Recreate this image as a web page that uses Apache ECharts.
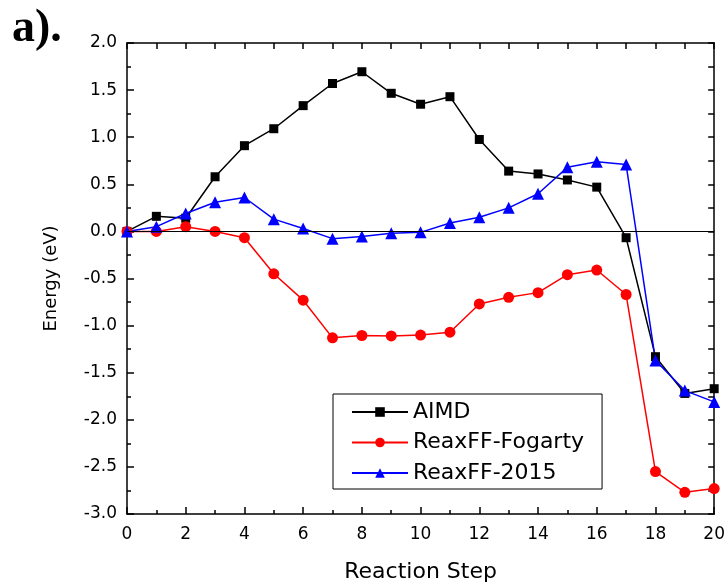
<!DOCTYPE html>
<html>
<head>
<meta charset="utf-8">
<script src="https://cdn.jsdelivr.net/npm/echarts@6/dist/echarts.min.js"></script>
<style>html,body{margin:0;padding:0;background:#fff;}#c{width:728px;height:588px;}</style>
</head>
<body>
<div id="c"></div>
<script>
var steps = [0,1,2,3,4,5,6,7,8,9,10,11,12,13,14,15,16,17,18,19,20];
var aimd = [0,0.16,0.14,0.58,0.91,1.09,1.335,1.57,1.695,1.466,1.35,1.43,0.976,0.64,0.61,0.546,0.47,-0.067,-1.33,-1.72,-1.67];
var fogarty = [0,0.0,0.05,0.0,-0.067,-0.45,-0.73,-1.13,-1.105,-1.11,-1.10,-1.07,-0.77,-0.70,-0.65,-0.46,-0.41,-0.67,-2.55,-2.77,-2.73];
var reax2015 = [0,0.05,0.19,0.31,0.36,0.13,0.03,-0.077,-0.053,-0.02,-0.01,0.09,0.15,0.25,0.40,0.68,0.74,0.71,-1.37,-1.69,-1.81];
var seriesNames = ['AIMD','ReaxFF-Fogarty','ReaxFF-2015'];
var yTickLabels = ['2.0','1.5','1.0','0.5','0.0','-0.5','-1.0','-1.5','-2.0','-2.5','-3.0'];

function pairs(arr){ return steps.map(function(s,i){ return [s, arr[i]]; }); }

var chart = echarts.init(document.getElementById('c'), null, {renderer:'canvas'});
var font = '"DejaVu Sans", sans-serif';
var axisLineStyle = {color:'#000', width:1.5};
chart.setOption({
  backgroundColor:'#fff',
  animation:false,
  graphic:[{type:'text', left:12, top:6, style:{text:'a).', font:'bold 46px "Liberation Serif", "Times New Roman", serif', fill:'#000'}}],
  grid:{left:127, right:11, top:43, bottom:72},
  legend:{
    orient:'vertical', left:333, top:394,
    data:seriesNames,
    itemWidth:56, itemHeight:12, itemGap:6.5,
    padding:[6, 18, 4, 18],
    borderColor:'#000', borderWidth:1, backgroundColor:'#fff',
    textStyle:{fontFamily:font, fontSize:22, lineHeight:24, color:'#000'}
  },
  xAxis:[{
    type:'value', min:0, max:20, interval:2,
    name:'Reaction Step', nameLocation:'middle', nameGap:47,
    nameTextStyle:{fontFamily:font, fontSize:22, color:'#000'},
    axisLine:{show:true, onZero:false, lineStyle:axisLineStyle},
    axisTick:{show:true, inside:true, length:7, lineStyle:{color:'#000', width:1.5}},
    minorTick:{show:true, splitNumber:2, length:4, lineStyle:{color:'#000', width:1.5}},
    axisLabel:{fontFamily:font, fontSize:17, color:'#000', margin:12},
    splitLine:{show:false}
  },{
    type:'value', min:0, max:20, interval:1, position:'top',
    axisLine:{show:true, onZero:false, lineStyle:axisLineStyle},
    axisTick:{show:true, inside:true, length:6, lineStyle:{color:'#000', width:1.5}},
    axisLabel:{show:false}, splitLine:{show:false}
  }],
  yAxis:[{
    type:'value', min:-3, max:2, interval:0.5,
    name:'Energy (eV)', nameLocation:'middle', nameGap:67,
    nameTextStyle:{fontFamily:font, fontSize:18, color:'#000'},
    axisLine:{show:true, onZero:false, lineStyle:axisLineStyle},
    axisTick:{show:true, inside:true, length:7, lineStyle:{color:'#000', width:1.5}},
    minorTick:{show:true, splitNumber:2, length:4, lineStyle:{color:'#000', width:1.5}},
    axisLabel:{fontFamily:font, fontSize:17, color:'#000', margin:10,
      formatter:function(v){ var i = Math.round((2 - v)/0.5); return yTickLabels[i]; }},
    splitLine:{show:false}
  },{
    type:'value', min:-3, max:2, interval:0.25, position:'right',
    axisLine:{show:true, onZero:false, lineStyle:axisLineStyle},
    axisTick:{show:true, inside:true, length:6, lineStyle:{color:'#000', width:1.5}},
    axisLabel:{show:false}, splitLine:{show:false}
  }],
  series:[{
    name:seriesNames[0], type:'line', data:pairs(aimd),
    symbol:'rect', symbolSize:9, color:'#000',
    lineStyle:{color:'#000', width:1.5}, itemStyle:{color:'#000'},
    markLine:{silent:true, symbol:'none', label:{show:false},
      lineStyle:{color:'#000', width:1, type:'solid'}, data:[{yAxis:0}]}
  },{
    name:seriesNames[1], type:'line', data:pairs(fogarty),
    symbol:'circle', symbolSize:11, color:'#ff0000',
    lineStyle:{color:'#ff0000', width:1.5}, itemStyle:{color:'#ff0000'}
  },{
    name:seriesNames[2], type:'line', data:pairs(reax2015),
    symbol:'triangle', symbolSize:12, color:'#0000ff',
    lineStyle:{color:'#0000ff', width:1.5}, itemStyle:{color:'#0000ff'}
  }]
});
</script>
</body>
</html>
